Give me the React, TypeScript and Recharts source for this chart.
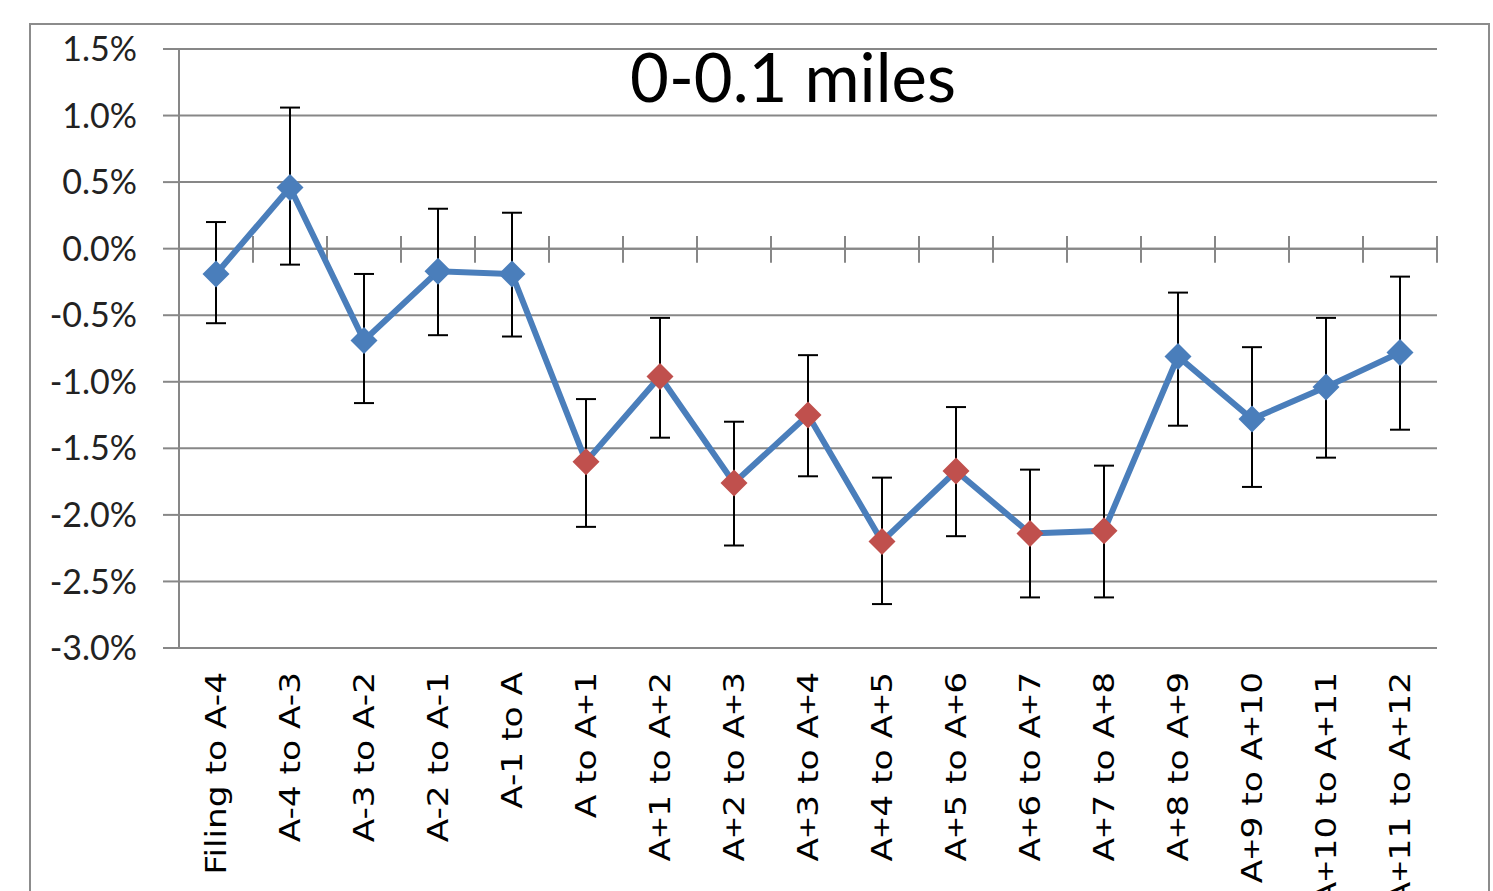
import React from 'react';
import { ComposedChart, Line, XAxis, YAxis, CartesianGrid, ErrorBar, ReferenceLine } from 'recharts';

const chartTitle = '0-0.1 miles';

const categories = [
  'Filing to A-4', 'A-4 to A-3', 'A-3 to A-2', 'A-2 to A-1', 'A-1 to A',
  'A to A+1', 'A+1 to A+2', 'A+2 to A+3', 'A+3 to A+4', 'A+4 to A+5',
  'A+5 to A+6', 'A+6 to A+7', 'A+7 to A+8', 'A+8 to A+9', 'A+9 to A+10',
  'A+10 to A+11', 'A+11 to A+12',
];

const changePct = [-0.19, 0.46, -0.69, -0.17, -0.19, -1.60, -0.96, -1.76, -1.25, -2.20, -1.67, -2.14, -2.12, -0.81, -1.28, -1.04, -0.78];
const upperPct = [0.20, 1.06, -0.19, 0.30, 0.27, -1.13, -0.52, -1.30, -0.80, -1.72, -1.19, -1.66, -1.63, -0.33, -0.74, -0.52, -0.21];
const lowerPct = [-0.56, -0.12, -1.16, -0.65, -0.66, -2.09, -1.42, -2.23, -1.71, -2.67, -2.16, -2.62, -2.62, -1.33, -1.79, -1.57, -1.36];
const highlighted = [false, false, false, false, false, true, true, true, true, true, true, true, true, false, false, false, false];

const yTicks = [-3.0, -2.5, -2.0, -1.5, -1.0, -0.5, 0.0, 0.5, 1.0, 1.5];

const data = categories.map((name, i) => ({
  idx: i,
  name,
  value: changePct[i],
  err: [changePct[i] - lowerPct[i], upperPct[i] - changePct[i]],
  hl: highlighted[i],
}));

const xTicks = categories.map((_, i) => i);
const boundaries = [...categories.map((_, i) => i - 0.5), categories.length - 0.5];

const GRID = '#878787';
const LINE = '#4a7ebb';
const RED = '#c0504d';

const DiamondDot = (props: any) => {
  const { cx, cy, index, payload } = props;
  if (cx == null || cy == null) return <g key={`d${index}`} />;
  const r = 13.5;
  const fill = payload && payload.hl ? RED : LINE;
  return (
    <path
      key={`d${index}`}
      d={`M${cx},${cy - r}L${cx + r},${cy}L${cx},${cy + r}L${cx - r},${cy}Z`}
      fill={fill}
      stroke="none"
    />
  );
};

const XTick = (props: any) => {
  const { x, y, payload } = props;
  const label = categories[payload.value];
  if (label == null) return null;
  const parts = label.split(/(\+)/).filter((p: string) => p.length > 0);
  return (
    <g transform={`translate(${x},${y + 16}) rotate(-90) scale(1.25,1)`}>
      <text
        x={0}
        y={0}
        dy="0.36em"
        textAnchor="end"
        fontFamily="'DejaVu Sans', Verdana, sans-serif"
        fontSize={27.5}
        fill="#000"
      >
        {parts.map((p: string, i: number) =>
          p === '+' ? (
            <tspan key={i} fontFamily="'Liberation Sans', Arial, sans-serif" fontSize={29}>
              +
            </tspan>
          ) : (
            <tspan key={i}>{p}</tspan>
          )
        )}
      </text>
    </g>
  );
};

export default function App() {
  return (
    <div
      style={{
        position: 'absolute',
        left: 0,
        top: 0,
        width: 1493,
        height: 891,
        overflow: 'hidden',
        background: '#fff',
      }}
    >
      <div
        style={{
          position: 'absolute',
          left: 29,
          top: 23,
          width: 1461,
          height: 1000,
          border: '2px solid #8c8c8c',
          boxSizing: 'border-box',
        }}
      />
      <div style={{ position: 'absolute', left: 0, top: 0 }}>
        <ComposedChart
          width={1493}
          height={891}
          data={data}
          margin={{ top: 49, right: 56, bottom: 43, left: 79 }}
        >
          <CartesianGrid horizontal vertical={false} stroke={GRID} strokeWidth={2} />
          <XAxis
            type="number"
            dataKey="idx"
            domain={[-0.5, categories.length - 0.5]}
            ticks={xTicks}
            interval={0}
            axisLine={false}
            tickLine={false}
            height={200}
            tick={<XTick />}
            allowDataOverflow
          />
          <YAxis
            type="number"
            domain={[-3, 1.5]}
            ticks={yTicks}
            interval={0}
            width={100}
            tickSize={16}
            tickMargin={26}
            axisLine={{ stroke: GRID, strokeWidth: 2 }}
            tickLine={{ stroke: GRID, strokeWidth: 2 }}
            tickFormatter={(v: number) => `${v.toFixed(1)}%`}
            tick={{ fontFamily: "Lato, 'Open Sans', sans-serif", fontSize: 34, fill: '#222' }}
            allowDataOverflow
          />
          <ReferenceLine y={0} stroke={GRID} strokeWidth={2} />
          {boundaries.map((b) => (
            <ReferenceLine
              key={`b${b}`}
              segment={[{ x: b, y: 0.095 }, { x: b, y: -0.105 }]}
              stroke={GRID}
              strokeWidth={2}
            />
          ))}
          <Line
            type="linear"
            dataKey="value"
            stroke={LINE}
            strokeWidth={6}
            dot={DiamondDot}
            activeDot={false}
            isAnimationActive={false}
          >
            <ErrorBar dataKey="err" direction="y" width={10} stroke="#000" strokeWidth={2} isAnimationActive={false} />
          </Line>
        </ComposedChart>
      </div>
      <div
        style={{
          position: 'absolute',
          left: 593,
          width: 400,
          top: 36,
          textAlign: 'center',
          fontFamily: "Lato, 'Open Sans', sans-serif",
          fontSize: 67,
          lineHeight: '80px',
          color: '#000',
        }}
      >
        {chartTitle}
      </div>
    </div>
  );
}
